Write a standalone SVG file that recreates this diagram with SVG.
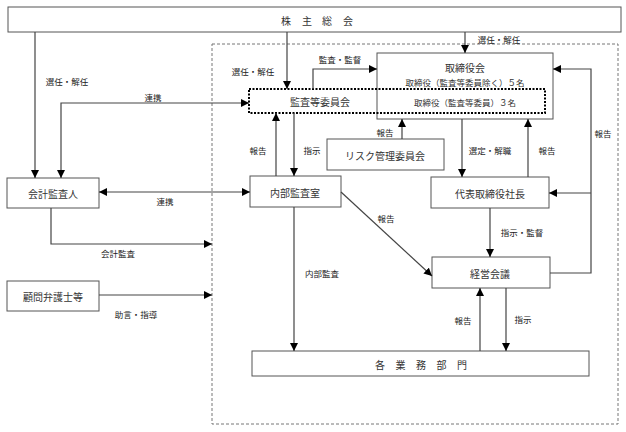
<svg xmlns="http://www.w3.org/2000/svg" width="626" height="432" viewBox="0 0 626 432">
<style>
.box{fill:#fff;stroke:#555;stroke-width:1}
.nt{font-family:"Noto Sans CJK JP",sans-serif;font-size:10px;fill:#333;text-anchor:middle;dominant-baseline:central}
.st{font-family:"Noto Sans CJK JP",sans-serif;font-size:8.5px;fill:#333;text-anchor:middle;dominant-baseline:central}
.lb{font-family:"Noto Sans CJK JP",sans-serif;font-size:8.5px;fill:#222;text-anchor:middle;dominant-baseline:central}
.c{fill:none;stroke:#444;stroke-width:1.2}
.a{marker-end:url(#ah)}
.b{marker-start:url(#ah);marker-end:url(#ah)}
</style>
<defs>
<marker id="ah" viewBox="0 0 10 10" refX="10" refY="5" markerWidth="8" markerHeight="8" markerUnits="userSpaceOnUse" orient="auto-start-reverse">
<path d="M0,0 L10,5 L0,10 z" fill="#000"/>
</marker>
</defs>
<rect x="212" y="44" width="406" height="380" fill="none" stroke="#777" stroke-width="1" stroke-dasharray="3,2"/>
<g id="shareholders"><rect class="box" x="8" y="7" width="613" height="25"/><text class="nt" x="286 307 327 348" y="20">株主総会</text></g>
<g id="auditor"><rect class="box" x="7" y="178" width="92" height="30"/><text class="nt" x="53" y="193">会計監査人</text></g>
<g id="lawyer"><rect class="box" x="7" y="281" width="92" height="30"/><text class="nt" x="53" y="296">顧問弁護士等</text></g>
<g id="board"><rect class="box" x="377" y="53" width="176" height="66"/><text class="nt" x="465" y="67">取締役会</text><text class="st" x="465" y="82">取締役（監査等委員除く）５名</text><text class="st" x="465" y="102">取締役（監査等委員）３名</text></g>
<g id="audit-committee"><rect x="249" y="89" width="296" height="24" fill="none" stroke="#000" stroke-width="2" stroke-dasharray="2,1.5"/><text class="nt" x="320" y="101">監査等委員会</text></g>
<g id="internal-audit"><rect class="box" x="250" y="176" width="91" height="31"/><text class="nt" x="295" y="192">内部監査室</text></g>
<g id="risk"><rect class="box" x="327" y="139" width="117" height="31"/><text class="nt" x="385" y="155">リスク管理委員会</text></g>
<g id="president"><rect class="box" x="431" y="177" width="118" height="31"/><text class="nt" x="490" y="193">代表取締役社長</text></g>
<g id="management"><rect class="box" x="432" y="257" width="118" height="31"/><text class="nt" x="490" y="273">経営会議</text></g>
<g id="divisions"><rect class="box" x="252" y="351" width="337" height="25"/><text class="nt" x="380 400.5 421 441.5 462" y="364">各業務部門</text></g>
<g id="connectors">
<path class="c a" d="M35,32 V178"/>
<path class="c a" d="M287,32 V89"/>
<path class="c a" d="M465,32 V53"/>
<path class="c b" d="M61,178 V103 H249"/>
<path class="c a" d="M313,89 V69 H377"/>
<path class="c a" d="M276,176 V113"/>
<path class="c a" d="M294,113 V176"/>
<path class="c a" d="M402,139 V119"/>
<path class="c a" d="M462,119 V177"/>
<path class="c a" d="M528,177 V119"/>
<path class="c a" d="M550,273 H591 V69 H553"/>
<path class="c a" d="M591,193 H549"/>
<path class="c a" d="M490,208 V257"/>
<path class="c a" d="M341,192 L432,276"/>
<path class="c b" d="M99,192 H250"/>
<path class="c a" d="M51,208 V244 H212"/>
<path class="c a" d="M99,295 H212"/>
<path class="c a" d="M294,207 V351"/>
<path class="c a" d="M480,351 V288"/>
<path class="c a" d="M506,288 V351"/>
<text class="lb" x="67" y="81">選任・解任</text>
<text class="lb" x="153" y="97">連携</text>
<text class="lb" x="253" y="71">選任・解任</text>
<text class="lb" x="499" y="39">選任・解任</text>
<text class="lb" x="340" y="59">監査・監督</text>
<text class="lb" x="258" y="150">報告</text>
<text class="lb" x="312" y="150">指示</text>
<text class="lb" x="385" y="132">報告</text>
<text class="lb" x="490" y="150">選定・解職</text>
<text class="lb" x="547" y="150">報告</text>
<text class="lb" x="603" y="133">報告</text>
<text class="lb" x="165" y="201">連携</text>
<text class="lb" x="522" y="232">指示・監督</text>
<text class="lb" x="386" y="218">報告</text>
<text class="lb" x="118" y="253">会計監査</text>
<text class="lb" x="136" y="314">助言・指導</text>
<text class="lb" x="322" y="273">内部監査</text>
<text class="lb" x="463" y="320">報告</text>
<text class="lb" x="523" y="319">指示</text>
</g>
</svg>
